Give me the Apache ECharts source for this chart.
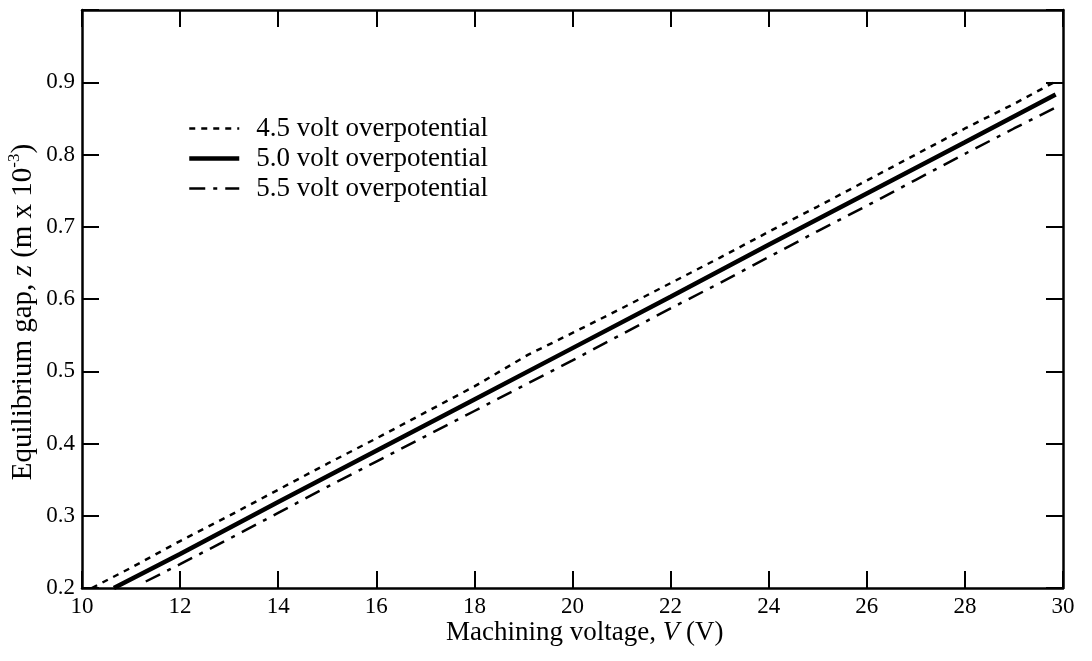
<!DOCTYPE html>
<html>
<head>
<meta charset="utf-8">
<script src="https://cdn.jsdelivr.net/npm/echarts@6/dist/echarts.min.js"></script>
<style>
  html, body { margin: 0; padding: 0; background: #fff; }
  #chart { width: 1092px; height: 661px; }
</style>
</head>
<body>
<div id="chart"></div>
<script>
// Equilibrium gap vs machining voltage for three overpotentials
const seriesNames = ['4.5 volt overpotential', '5.0 volt overpotential', '5.5 volt overpotential'];

// [machining voltage V, gap z (m x 10^-3)]
const gap45 = [
  [10.2, 0.200], [11.0, 0.228], [12.0, 0.265], [13.0, 0.300], [14.0, 0.336],
  [15.0, 0.372], [16.0, 0.407], [17.0, 0.443], [18.0, 0.479], [19.1, 0.523],
  [20.0, 0.553], [21.0, 0.587], [22.0, 0.622], [23.0, 0.657], [24.0, 0.693],
  [25.0, 0.728], [26.0, 0.764], [27.0, 0.800], [28.0, 0.836], [29.0, 0.870],
  [29.9, 0.903]
];
const gap50 = [
  [10.65, 0.200], [12.0, 0.247], [14.0, 0.319], [16.0, 0.390], [18.0, 0.461],
  [20.0, 0.532], [22.0, 0.603], [24.0, 0.675], [26.0, 0.746], [28.0, 0.817],
  [29.85, 0.883]
];
const gap55 = [
  [11.3, 0.209], [12.0, 0.233], [13.0, 0.268], [14.0, 0.304], [15.0, 0.340],
  [16.0, 0.375], [17.0, 0.410], [18.0, 0.445], [19.0, 0.480], [20.0, 0.515],
  [21.0, 0.551], [22.0, 0.587], [23.0, 0.622], [24.0, 0.658], [25.0, 0.694],
  [26.0, 0.729], [27.0, 0.765], [28.0, 0.801], [29.0, 0.836], [29.85, 0.865]
];

const xMin = 10, xMax = 30, xStep = 2;
const yMin = 0.2, yMax = 1.0, yStep = 0.1;

const serif = '"Liberation Serif", "DejaVu Serif", serif';
const ink = '#000';

// line styles shared by each series and its legend sample
const styles = [
  { color: ink, width: 2.5, type: [6, 6] },
  { color: ink, width: 4.5, type: 'solid' },
  { color: ink, width: 2.5, type: [16, 8, 4, 8] }
];

const chart = echarts.init(document.getElementById('chart'), null, { renderer: 'canvas' });

const frameLine = { show: true, onZero: false, lineStyle: { color: ink, width: 2.5 } };
const innerTick = { show: true, inside: true, length: 17, lineStyle: { color: ink, width: 2 } };

chart.setOption({
  animation: false,
  backgroundColor: '#fff',
  grid: { left: 82, right: 29, top: 10, bottom: 73, containLabel: false },
  legend: {
    orient: 'vertical',
    left: 182,
    top: 110,
    itemWidth: 50,
    itemHeight: 14,
    itemGap: 3,
    itemStyle: { opacity: 0 },
    textStyle: {
      fontFamily: serif, fontSize: 27, lineHeight: 26, color: ink,
      padding: [0, 0, 0, 12]
    },
    data: seriesNames.map((name, i) => ({ name, lineStyle: Object.assign({}, styles[i]) }))
  },
  xAxis: [
    {
      type: 'value', min: xMin, max: xMax, interval: xStep, position: 'bottom',
      axisLine: frameLine, axisTick: innerTick, splitLine: { show: false },
      axisLabel: { margin: 7, fontFamily: serif, fontSize: 23, color: ink }
    },
    {
      type: 'value', min: xMin, max: xMax, interval: xStep, position: 'top',
      axisLine: frameLine, axisTick: innerTick, splitLine: { show: false },
      axisLabel: { show: false }
    }
  ],
  yAxis: [
    {
      type: 'value', min: yMin, max: yMax, interval: yStep, position: 'left',
      axisLine: frameLine, axisTick: innerTick, splitLine: { show: false },
      axisLabel: {
        margin: 7, fontFamily: serif, fontSize: 23, color: ink,
        formatter: v => (v > 0.95 ? '' : v.toFixed(1))
      }
    },
    {
      type: 'value', min: yMin, max: yMax, interval: yStep, position: 'right',
      axisLine: frameLine, axisTick: innerTick, splitLine: { show: false },
      axisLabel: { show: false }
    }
  ],
  series: [gap45, gap50, gap55].map((data, i) => ({
    name: seriesNames[i], type: 'line', data, symbol: 'none',
    lineStyle: styles[i],
    itemStyle: { color: ink }
  })),
  graphic: [
    {
      type: 'text', left: 446, top: 619,
      style: {
        text: '{r|Machining voltage, }{i|V}{r| (V)}',
        rich: {
          r: { fontFamily: serif, fontSize: 27, fill: ink },
          i: { fontFamily: serif, fontSize: 27, fontStyle: 'italic', fill: ink }
        }
      }
    },
    {
      type: 'text', x: 22, y: 312, rotation: Math.PI / 2,
      style: {
        text: '{r|Equilibrium gap, }{i|z}{r| (m x 10}{s|-3}{r|)}',
        align: 'center', verticalAlign: 'middle',
        rich: {
          r: { fontFamily: serif, fontSize: 29, fill: ink, lineHeight: 32, verticalAlign: 'bottom' },
          i: { fontFamily: serif, fontSize: 29, fontStyle: 'italic', fill: ink, lineHeight: 32, verticalAlign: 'bottom' },
          s: { fontFamily: serif, fontSize: 17, fill: ink, lineHeight: 32, verticalAlign: 'top' }
        }
      }
    }
  ]
});
</script>
</body>
</html>
